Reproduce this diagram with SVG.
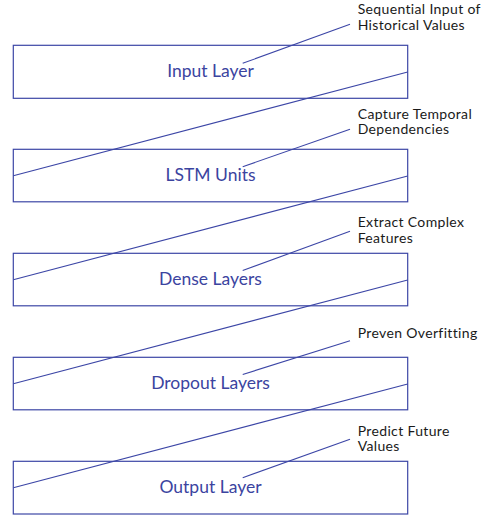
<svg xmlns="http://www.w3.org/2000/svg" width="493" height="516" viewBox="0 0 493 516">
<style>
.box{fill:#fff;stroke:#3c46a6;stroke-width:1.2}
.lbl{font-family:Lato,"Open Sans",sans-serif;font-size:17.5px;fill:#3b449f;text-anchor:middle}
.ann{font-family:Lato,"Open Sans",sans-serif;font-size:14px;letter-spacing:0.35px;fill:#1a1a1a}
.ln{stroke:#3c46a6;stroke-width:1.1;fill:none}
</style>
<rect width="493" height="516" fill="#fff"/>
<g id="input">
<rect class="box" x="13.3" y="45.3" width="394.4" height="53"/>
<text class="lbl" x="210.5" y="77">Input Layer</text>
</g>
<g id="lstm">
<rect class="box" x="13.3" y="149.3" width="394.4" height="52.5"/>
<text class="lbl" x="210.5" y="181">LSTM Units</text>
</g>
<g id="dense">
<rect class="box" x="13.3" y="253.3" width="394.4" height="52.5"/>
<text class="lbl" x="210.5" y="285">Dense Layers</text>
</g>
<g id="dropout">
<rect class="box" x="13.3" y="357.3" width="394.4" height="52.5"/>
<text class="lbl" x="210.5" y="389">Dropout Layers</text>
</g>
<g id="output">
<rect class="box" x="13.3" y="461.3" width="394.4" height="52.7"/>
<text class="lbl" x="210.5" y="493">Output Layer</text>
</g>
<g id="connectors">
<line class="ln" x1="407.7" y1="72" x2="13.3" y2="175.7"/>
<line class="ln" x1="407.7" y1="176" x2="13.3" y2="279.7"/>
<line class="ln" x1="407.7" y1="280" x2="13.3" y2="383.7"/>
<line class="ln" x1="407.7" y1="384" x2="13.3" y2="487.7"/>
<line class="ln" x1="350" y1="24.3" x2="242.7" y2="63.3"/>
<line class="ln" x1="350" y1="129.3" x2="242.7" y2="166.7"/>
<line class="ln" x1="350" y1="231.3" x2="242.7" y2="270.5"/>
<line class="ln" x1="350" y1="340.7" x2="242.7" y2="374.5"/>
<line class="ln" x1="350" y1="439.3" x2="242.7" y2="477.7"/>
</g>
<g id="annotations">
<text class="ann" x="357.7" y="14">Sequential Input of</text>
<text class="ann" x="357.7" y="29.5">Historical Values</text>
<text class="ann" x="357.7" y="118.7">Capture Temporal</text>
<text class="ann" x="357.7" y="134.2">Dependencies</text>
<text class="ann" x="357.7" y="227">Extract Complex</text>
<text class="ann" x="357.7" y="242.5">Features</text>
<text class="ann" x="357.7" y="338.3">Preven Overfitting</text>
<text class="ann" x="357.7" y="435.5">Predict Future</text>
<text class="ann" x="357.7" y="451">Values</text>
</g>
</svg>
